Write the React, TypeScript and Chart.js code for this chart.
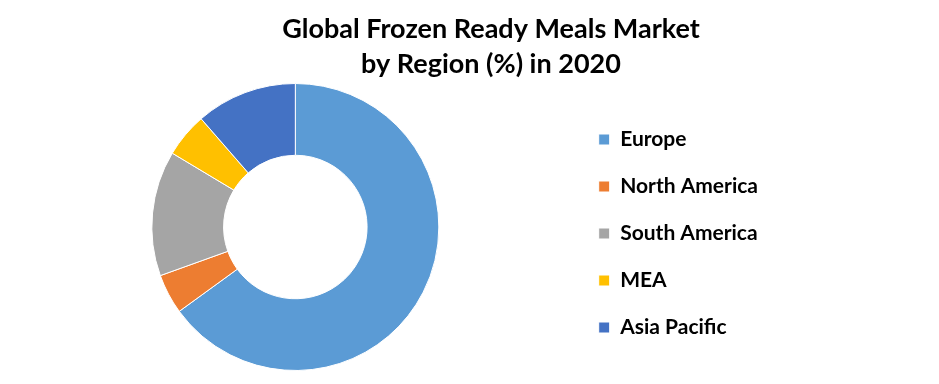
import React, { useEffect, useRef } from 'react';
import { Chart, registerables } from 'chart.js';

Chart.register(...registerables);

const regions = ['Europe', 'North America', 'South America', 'MEA', 'Asia Pacific'];
const shares = [65.0, 4.5, 14.1, 5.0, 11.4];
const colors = ['#5B9BD5', '#ED7D31', '#A5A5A5', '#FFC000', '#4472C4'];
const titleLines = ['Global Frozen Ready Meals Market', 'by Region (%) in 2020'];

const titlePlugin = {
  id: 'offsetTitle',
  afterDraw(chart: any) {
    const ctx = chart.ctx;
    ctx.save();
    ctx.font = 'bold 27px Lato';
    ctx.fillStyle = '#000000';
    ctx.textAlign = 'center';
    ctx.textBaseline = 'alphabetic';
    titleLines.forEach((t, i) => ctx.fillText(t, 491, 38 + i * 35));
    ctx.restore();
  },
};

export default function App() {
  const ref = useRef<HTMLCanvasElement>(null);
  useEffect(() => {
    if (!ref.current) return;
    const chart = new Chart(ref.current, {
      type: 'doughnut',
      data: {
        labels: regions,
        datasets: [
          {
            data: shares,
            backgroundColor: colors,
            borderColor: '#ffffff',
            borderWidth: 1,
            hoverOffset: 0,
          },
        ],
      },
      options: {
        responsive: false,
        animation: false,
        cutout: '50%',
        layout: { padding: { top: 83, bottom: 13, left: 18, right: 171 } },
        plugins: {
          title: { display: false },
          tooltip: { enabled: false },
          legend: {
            display: true,
            position: 'right',
            align: 'center',
            title: { display: true, text: '', padding: 0, font: { size: 13, lineHeight: 1 } },
            labels: {
              boxWidth: 11,
              boxHeight: 11,
              padding: 26,
              color: '#000000',
              font: { family: 'Lato', size: 21, weight: 'bold' },
            },
          },
        },
      },
      plugins: [titlePlugin],
    });
    return () => chart.destroy();
  }, []);
  return (
    <div style={{ position: 'absolute', left: 0, top: 0, width: 939, height: 384, background: '#fff' }}>
      <canvas ref={ref} width={939} height={384} style={{ display: 'block' }} />
    </div>
  );
}
